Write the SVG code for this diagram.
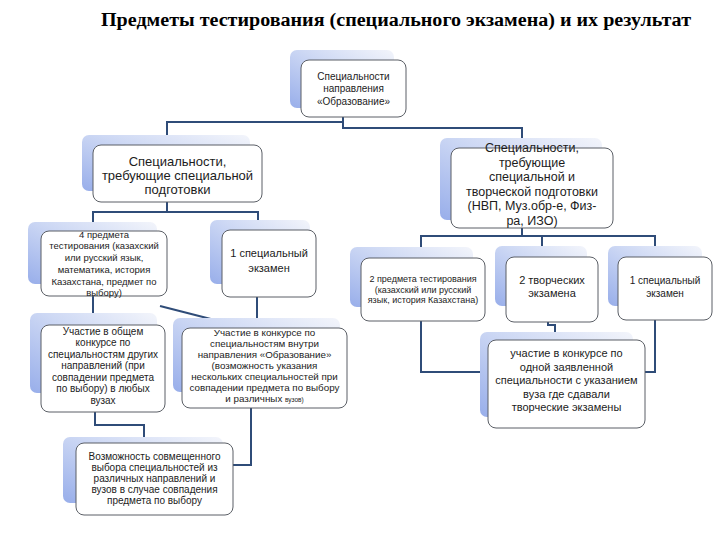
<svg xmlns="http://www.w3.org/2000/svg" width="720" height="540" viewBox="0 0 720 540">
<defs>
<linearGradient id="sh" x1="0" y1="1" x2="1" y2="0">
<stop offset="0" stop-color="#98aeea"/>
<stop offset="0.55" stop-color="#cdd8f4"/>
<stop offset="1" stop-color="#f3f5fb"/>
</linearGradient>
<style>
.sh{fill:url(#sh);stroke:none}
.bx{fill:#ffffff;stroke:#5b5f66;stroke-width:1}
.cn{fill:none;stroke:#2f4c78;stroke-width:2}
text{font-family:"Liberation Sans","Noto Sans",Arial,sans-serif;fill:#1c1c1c;text-anchor:middle}
.title{font-family:"Liberation Serif","Times New Roman",serif;font-weight:bold;font-size:18px;fill:#000}
</style>
</defs>
<rect width="720" height="540" fill="#ffffff"/>
<text class="title" x="396" y="26" textLength="590" lengthAdjust="spacingAndGlyphs">Предметы тестирования (специального экзамена) и их результат</text>

<g id="connectors">
<path class="cn" d="M167,145 V122 H343 V128 H522 V148"/>
<path class="cn" d="M343,116 V128"/>
<path class="cn" d="M167,202 V212"/>
<path class="cn" d="M93,231 V212 H258 V230"/>
<path class="cn" d="M93,296 V325"/>
<path class="cn" d="M257,297 V328"/>
<path class="cn" d="M160,306 L246,328"/>
<path class="cn" d="M95,412 V425 H144 V443"/>
<path class="cn" d="M251,408 V465 H233"/>
<path class="cn" d="M522,228 V236"/>
<path class="cn" d="M421,258 V236 H655 V257"/>
<path class="cn" d="M542,236 V257"/>
<path class="cn" d="M421,321 V372 H488"/>
<path class="cn" d="M655,320 V372 H645"/>
<path class="cn" d="M548,322 V325 H555 V340"/>
</g>

<g id="n-top">
<rect class="sh" x="290" y="50" width="104" height="58" rx="7"/>
<rect class="bx" x="301" y="60" width="105" height="57" rx="8"/>
<text font-size="10" x="353.5" y="79.5">Специальности</text>
<text font-size="10" x="353.5" y="92">направления</text>
<text font-size="10" x="353.5" y="104.5">«Образование»</text>
</g>

<g id="n-left">
<rect class="sh" x="82" y="135" width="168" height="56" rx="7"/>
<rect class="bx" x="93" y="145" width="169" height="57" rx="8"/>
<text font-size="13" x="177.5" y="165.5">Специальности,</text>
<text font-size="13" x="177.5" y="179.5">требующие специальной</text>
<text font-size="13" x="177.5" y="194">подготовки</text>
</g>

<g id="n-right">
<rect class="sh" x="440" y="138" width="162" height="82" rx="7"/>
<rect class="bx" x="451" y="148" width="162" height="80" rx="8"/>
<text font-size="12.5" x="532" y="152">Специальности,</text>
<text font-size="12.5" x="532" y="166.5">требующие</text>
<text font-size="12.5" x="532" y="181">специальной и</text>
<text font-size="12.5" x="532" y="195.5">творческой подготовки</text>
<text font-size="12.5" x="532" y="210">(НВП, Муз.обр-е, Физ-</text>
<text font-size="12.5" x="532" y="224.5">ра, ИЗО)</text>
</g>

<g id="n-4subj">
<rect class="sh" x="28" y="222" width="129" height="62" rx="7"/>
<rect class="bx" x="41" y="231" width="126" height="65" rx="8"/>
<text font-size="9.5" x="104" y="237.5">4 предмета</text>
<text font-size="9.5" x="104" y="249">тестирования (казахский</text>
<text font-size="9.5" x="104" y="260.5">или русский язык,</text>
<text font-size="9.5" x="104" y="272.5">математика, история</text>
<text font-size="9.5" x="104" y="284.5">Казахстана, предмет по</text>
<text font-size="9.5" x="104" y="296">выбору)</text>
</g>

<g id="n-1exam-left">
<rect class="sh" x="210" y="220" width="100" height="64" rx="7"/>
<rect class="bx" x="222" y="230" width="94" height="67" rx="8"/>
<text font-size="11" x="269" y="257">1 специальный</text>
<text font-size="11" x="269" y="271.5">экзамен</text>
</g>

<g id="n-general">
<rect class="sh" x="30" y="313" width="127" height="80" rx="7"/>
<rect class="bx" x="41" y="325" width="124" height="87" rx="8"/>
<text font-size="10" x="103" y="334.5">Участие в общем</text>
<text font-size="10" x="103" y="346">конкурсе по</text>
<text font-size="10" x="103" y="357.5">специальностям других</text>
<text font-size="10" x="103" y="369">направлений (при</text>
<text font-size="10" x="103" y="380.5">совпадении предмета</text>
<text font-size="10" x="103" y="392">по выбору) в любых</text>
<text font-size="10" x="103" y="403.5">вузах</text>
</g>

<g id="n-inner">
<rect class="sh" x="173" y="318" width="167" height="74" rx="7"/>
<rect class="bx" x="182" y="328" width="165" height="80" rx="8"/>
<text font-size="9.8" x="264.5" y="335.5">Участие в конкурсе по</text>
<text font-size="9.8" x="264.5" y="346.5">специальностям внутри</text>
<text font-size="9.8" x="264.5" y="357.5">направления «Образование»</text>
<text font-size="9.8" x="264.5" y="368.5">(возможность указания</text>
<text font-size="9.8" x="264.5" y="379.5">нескольких специальностей при</text>
<text font-size="9.8" x="264.5" y="390.5">совпадении предмета по выбору</text>
<text font-size="9.8" x="264.5" y="401.5">и различных <tspan font-size="6.5">вузов)</tspan></text>
</g>

<g id="n-combined">
<rect class="sh" x="63" y="437" width="160" height="66" rx="7"/>
<rect class="bx" x="76" y="443" width="157" height="72" rx="8"/>
<text font-size="10" x="154.5" y="459.5">Возможность совмещенного</text>
<text font-size="10" x="154.5" y="470.5">выбора специальностей из</text>
<text font-size="10" x="154.5" y="481.5">различных направлений и</text>
<text font-size="10" x="154.5" y="492.5">вузов в случае совпадения</text>
<text font-size="10" x="154.5" y="503.5">предмета по выбору</text>
</g>

<g id="n-2subj">
<rect class="sh" x="350" y="247" width="123" height="60" rx="7"/>
<rect class="bx" x="361" y="258" width="124" height="63" rx="8"/>
<text font-size="9" x="423" y="282">2 предмета тестирования</text>
<text font-size="9" x="423" y="292.5">(казахский или русский</text>
<text font-size="9" x="423" y="303">язык, история Казахстана)</text>
</g>

<g id="n-2creative">
<rect class="sh" x="495" y="246" width="92" height="60" rx="7"/>
<rect class="bx" x="506" y="257" width="92" height="65" rx="8"/>
<text font-size="11" x="552" y="284">2 творческих</text>
<text font-size="11" x="552" y="297">экзамена</text>
</g>

<g id="n-1exam-right">
<rect class="sh" x="608" y="246" width="94" height="60" rx="7"/>
<rect class="bx" x="618" y="257" width="94" height="63" rx="8"/>
<text font-size="10" x="665" y="283.5">1 специальный</text>
<text font-size="10" x="665" y="296.5">экзамен</text>
</g>

<g id="n-creative-result">
<rect class="sh" x="480" y="332" width="153" height="85" rx="7"/>
<rect class="bx" x="488" y="340" width="157" height="88" rx="8"/>
<text font-size="11" x="566.5" y="357">участие в конкурсе по</text>
<text font-size="11" x="566.5" y="370.5">одной заявленной</text>
<text font-size="11" x="566.5" y="384">специальности с указанием</text>
<text font-size="11" x="566.5" y="397.5">вуза где сдавали</text>
<text font-size="11" x="566.5" y="411">творческие экзамены</text>
</g>
</svg>
